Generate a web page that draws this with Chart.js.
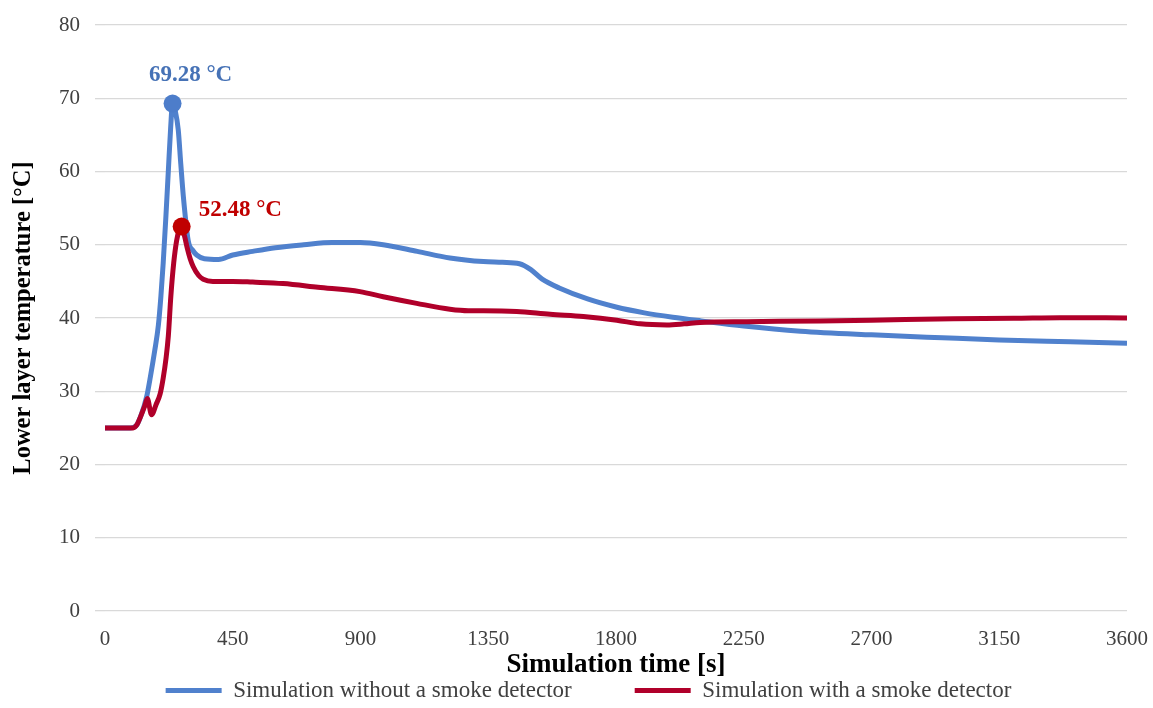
<!DOCTYPE html>
<html>
<head>
<meta charset="utf-8">
<script src="https://cdn.jsdelivr.net/npm/chart.js@4/dist/chart.umd.min.js"></script>
<style>
  html, body { margin: 0; padding: 0; background: #fff; }
  #wrap { width: 1153px; height: 708px; }
</style>
</head>
<body>
<div id="wrap"><canvas id="chart"></canvas></div>
<script>
// ─── data ───
const xTicks = [0, 450, 900, 1350, 1800, 2250, 2700, 3150, 3600];
const yTicks = [0, 10, 20, 30, 40, 50, 60, 70, 80];

const blueLabel = 'Simulation without a smoke detector';
const blueTimes = [0, 90, 110, 125, 147, 160, 175, 188, 197, 205, 214, 223, 231, 238, 248, 258, 267, 276, 293, 310, 323, 350, 400, 450, 520, 600, 700, 800, 900, 980, 1100, 1215, 1333, 1400, 1460, 1500, 1540, 1600, 1700, 1800, 1900, 2000, 2100, 2250, 2450, 2700, 2950, 3150, 3400, 3600];
const blueTemps = [25, 25, 25.3, 26.5, 29.3, 32, 35.5, 39, 43, 47.5, 53.5, 60, 65.8, 69.28, 68.2, 65.7, 61, 56.6, 50.6, 49.2, 48.6, 48.1, 48.0, 48.6, 49.1, 49.6, 50.0, 50.3, 50.3, 50.0, 49.1, 48.2, 47.7, 47.6, 47.4, 46.6, 45.3, 44.1, 42.6, 41.5, 40.7, 40.1, 39.6, 38.9, 38.2, 37.7, 37.3, 37.0, 36.75, 36.55];

const redLabel = 'Simulation with a smoke detector';
const redTimes = [0, 99, 112, 125, 140, 149, 164, 180, 194, 205, 215, 223, 232, 242, 252, 261, 270, 280, 290, 300, 311, 330, 346, 380, 450, 520, 627, 750, 898, 980, 1098, 1215, 1280, 1333, 1450, 1568, 1685, 1803, 1885, 1979, 2040, 2096, 2261, 2519, 2700, 2988, 3200, 3364, 3600];
const redTemps = [25, 25, 25.4, 26.5, 28, 29.0, 26.8, 28.2, 29.6, 31.8, 34.5, 37.5, 43, 47.5, 50.5, 52.0, 52.48, 51.2, 49.5, 48.1, 47.0, 45.8, 45.3, 45.0, 45.0, 44.9, 44.7, 44.2, 43.6, 42.9, 42.0, 41.2, 41.0, 41.0, 40.9, 40.5, 40.2, 39.7, 39.2, 39.05, 39.2, 39.4, 39.5, 39.6, 39.7, 39.9, 39.95, 40.05, 40.0];

// ─── colours ───
const BLUE = '#5081cd', BLUE_DOT = '#4d7dca', BLUE_TXT = '#4672b6';
const RED  = '#b0002a', RED_DOT  = '#c00000', RED_TXT  = '#c00000';
const FONT = "'Liberation Serif', 'Times New Roman', serif";

function toPoints(xs, ys) { return xs.map((x, i) => ({ x, y: ys[i] })); }
function peakIndex(ys) { return ys.indexOf(Math.max(...ys)); }

const bluePeak = peakIndex(blueTemps);
const redPeak  = peakIndex(redTemps);

// labels next to the peak markers
const peakLabels = {
  id: 'peakLabels',
  afterDatasetsDraw(chart) {
    const ctx = chart.ctx;
    const items = [
      { ds: 0, idx: bluePeak, val: blueTemps[bluePeak], color: BLUE_TXT, dx: 18, dy: -28, align: 'center' },
      { ds: 1, idx: redPeak,  val: redTemps[redPeak],   color: RED_TXT,  dx: 17, dy: -17, align: 'left' },
    ];
    ctx.save();
    ctx.font = `bold 23px ${FONT}`;
    ctx.textBaseline = 'middle';
    items.forEach(it => {
      const pt = chart.getDatasetMeta(it.ds).data[it.idx];
      if (!pt) return;
      ctx.fillStyle = it.color;
      ctx.textAlign = it.align;
      ctx.fillText(`${it.val.toFixed(2)} °C`, pt.x + it.dx, pt.y + it.dy);
    });
    ctx.restore();
  }
};

new Chart(document.getElementById('chart'), {
  type: 'line',
  data: {
    datasets: [
      {
        label: blueLabel,
        data: toPoints(blueTimes, blueTemps),
        borderColor: BLUE, backgroundColor: BLUE,
        borderWidth: 5, cubicInterpolationMode: 'monotone',
        pointRadius: c => c.dataIndex === bluePeak ? 9 : 0,
        pointBackgroundColor: BLUE_DOT, pointBorderWidth: 0,
        order: 2,
      },
      {
        label: redLabel,
        data: toPoints(redTimes, redTemps),
        borderColor: RED, backgroundColor: RED,
        borderWidth: 5, cubicInterpolationMode: 'monotone',
        pointRadius: c => c.dataIndex === redPeak ? 9 : 0,
        pointBackgroundColor: RED_DOT, pointBorderWidth: 0,
        order: 1,
      },
    ]
  },
  options: {
    responsive: true, maintainAspectRatio: false, animation: false,
    layout: { padding: { top: 25, right: 26, bottom: -4, left: 50 } },
    plugins: {
      tooltip: { enabled: false },
      legend: {
        position: 'bottom',
        labels: {
          font: { family: FONT, size: 23 }, color: '#404040',
          boxWidth: 56, boxHeight: 5, padding: 63,
          sort: (a, b) => a.datasetIndex - b.datasetIndex,
          generateLabels: chart => Chart.defaults.plugins.legend.labels.generateLabels(chart)
            .map(l => ({ ...l, lineWidth: 0 })),
        }
      }
    },
    scales: {
      x: {
        type: 'linear', min: xTicks[0], max: xTicks[xTicks.length - 1],
        afterBuildTicks: s => { s.ticks = xTicks.map(v => ({ value: v })); },
        afterFit: s => { s.height = 5; s.paddingLeft = 0; s.paddingRight = 0; },
        grid: { display: false, drawTicks: false },
        border: { display: false },
        ticks: {
          mirror: true, padding: -41, maxRotation: 0, autoSkip: false, color: '#404040',
          font: { family: FONT, size: 21 }, callback: v => String(v)
        },
        title: {
          display: true, text: 'Simulation time [s]', color: '#000',
          font: { family: FONT, size: 27, weight: 'bold' },
          padding: { top: 0, bottom: -65 }
        }
      },
      y: {
        min: yTicks[0], max: yTicks[yTicks.length - 1],
        afterBuildTicks: s => { s.ticks = yTicks.map(v => ({ value: v })); },
        afterFit: s => { s.width = 55; s.paddingTop = 0; s.paddingBottom = 0; },
        grid: { color: '#d9d9d9', lineWidth: 1.3, drawTicks: true, tickLength: 10, tickColor: '#d9d9d9' },
        border: { display: false },
        ticks: { padding: 15, color: '#404040', font: { family: FONT, size: 21 } },
        title: {
          display: true, text: 'Lower layer temperature [°C]', color: '#000',
          font: { family: FONT, size: 24.5, weight: 'bold' },
          padding: { top: -41, bottom: 0 }
        }
      }
    }
  },
  plugins: [peakLabels]
});
</script>
</body>
</html>
